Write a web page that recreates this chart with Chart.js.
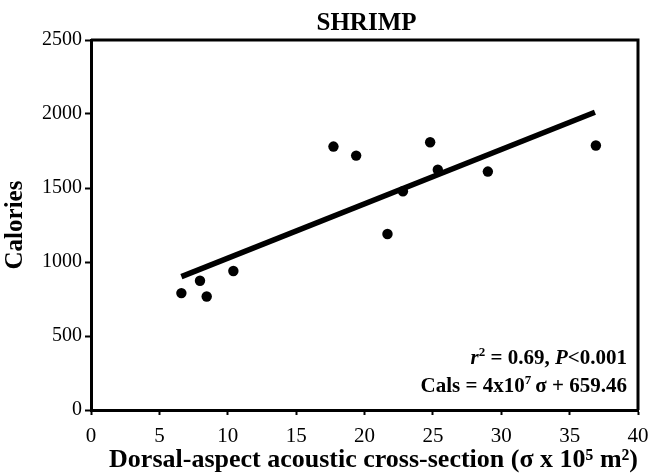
<!DOCTYPE html>
<html>
<head>
<meta charset="utf-8">
<script src="https://cdn.jsdelivr.net/npm/chart.js@4.4.1/dist/chart.umd.min.js"></script>
<style>
  html, body { margin: 0; padding: 0; background: #fff; }
</style>
</head>
<body>
<canvas id="shrimpChart" width="649" height="476"></canvas>
<script>
// values
const crossSection = [6.61, 7.97, 8.46, 10.41, 17.73, 19.39, 21.68, 22.81, 24.8, 25.36, 29.02, 36.92];
const calories     = [790, 873, 767, 939, 1780, 1719, 1189, 1478, 1809, 1623, 1611, 1787];

// regression line end points
const fitX = [6.61, 36.85];
const fitY = [901, 2012];

const xTicks = [0, 5, 10, 15, 20, 25, 30, 35, 40];
const yTicks = [0, 500, 1000, 1500, 2000, 2500];

const chartTitle = 'SHRIMP';
const xTitle = 'Dorsal-aspect acoustic cross-section (σ x 10⁵ m²)';
const yTitle = 'Calories';

const SERIF = "'Liberation Serif', 'Times New Roman', serif";
Chart.defaults.font.family = SERIF;
Chart.defaults.color = '#000';

// text runs: { t, it, sup }
function drawRuns(ctx, runs, rightX, baseY, size) {
  const fontFor = r => {
    const s = r.sup ? Math.round(size * 0.62) : size;
    return (r.it ? 'italic ' : '') + 'bold ' + s + 'px ' + SERIF;
  };
  let total = 0;
  runs.forEach(r => { ctx.font = fontFor(r); total += ctx.measureText(r.t).width; });
  let x = rightX - total;
  runs.forEach(r => {
    ctx.font = fontFor(r);
    ctx.fillText(r.t, x, r.sup ? baseY - size * 0.38 : baseY);
    x += ctx.measureText(r.t).width;
  });
}

const textLayer = {
  id: 'textLayer',
  beforeDatasetsDraw(chart) {
    const { ctx, chartArea: a } = chart;
    ctx.save();
    ctx.strokeStyle = '#000';
    ctx.lineWidth = 3;
    ctx.beginPath();
    ctx.moveTo(a.left, a.top);
    ctx.lineTo(a.right, a.top);
    ctx.lineTo(a.right, a.bottom);
    ctx.stroke();
    ctx.restore();
  },
  afterDraw(chart) {
    const { ctx, chartArea: a } = chart;
    ctx.save();
    ctx.fillStyle = '#000';
    ctx.textBaseline = 'alphabetic';
    ctx.textAlign = 'center';
    ctx.font = 'bold 25px ' + SERIF;
    ctx.fillText(chartTitle, (a.left + a.right) / 2 + 2, 30);

    ctx.textAlign = 'left';
    drawRuns(ctx, [
      { t: 'r', it: true }, { t: '2', sup: true }, { t: ' = 0.69, ' },
      { t: 'P', it: true }, { t: '<0.001' }
    ], a.right - 11, a.bottom - 46, 21);
    drawRuns(ctx, [
      { t: 'Cals = 4x10' }, { t: '7', sup: true }, { t: '\u2009σ + 659.46' }
    ], a.right - 11, a.bottom - 18, 21);
    ctx.restore();
  }
};

const ctx = document.getElementById('shrimpChart').getContext('2d');

new Chart(ctx, {
  data: {
    datasets: [
      {
        type: 'line',
        data: fitX.map((x, i) => ({ x, y: fitY[i] })),
        borderColor: '#000',
        borderWidth: 5.5,
        borderCapStyle: 'butt',
        pointRadius: 0,
        fill: false,
        tension: 0
      },
      {
        type: 'scatter',
        data: crossSection.map((x, i) => ({ x, y: calories[i] })),
        backgroundColor: '#000',
        borderColor: '#000',
        borderWidth: 0,
        pointRadius: 5.2,
        pointHoverRadius: 5.2
      }
    ]
  },
  options: {
    responsive: false,
    animation: false,
    devicePixelRatio: 1,
    layout: { padding: { top: 40, right: 11, left: 0, bottom: 0 } },
    plugins: {
      legend: { display: false },
      tooltip: { enabled: false }
    },
    scales: {
      x: {
        type: 'linear',
        min: xTicks[0],
        max: xTicks[xTicks.length - 1],
        afterBuildTicks: s => { s.ticks = xTicks.map(v => ({ value: v })); },
        ticks: { font: { size: 21 }, color: '#000', padding: 9, maxRotation: 0, callback: v => String(v) },
        grid: { drawOnChartArea: false, tickLength: 5, tickWidth: 2, color: '#000' },
        border: { display: true, color: '#000', width: 3 },
        title: {
          display: true, text: xTitle, color: '#000', align: 'end',
          font: { size: 26, weight: 'bold' },
          padding: { top: 0, bottom: 0 }
        },
        afterFit: s => { s.height = 66; s.paddingLeft = 0; s.paddingRight = 0; }
      },
      y: {
        type: 'linear',
        min: yTicks[0],
        max: yTicks[yTicks.length - 1],
        afterBuildTicks: s => { s.ticks = yTicks.map(v => ({ value: v })); },
        ticks: { font: { size: 20 }, color: '#000', padding: 3, callback: v => String(v) },
        grid: { drawOnChartArea: false, tickLength: 6, tickWidth: 2, color: '#000' },
        border: { display: true, color: '#000', width: 3 },
        title: {
          display: true, text: yTitle, color: '#000',
          font: { size: 25, weight: 'bold' },
          padding: { top: 1, bottom: 0 }
        },
        afterFit: s => { s.width = 91; s.paddingTop = 0; s.paddingBottom = 0; }
      }
    }
  },
  plugins: [textLayer]
});
</script>
</body>
</html>
